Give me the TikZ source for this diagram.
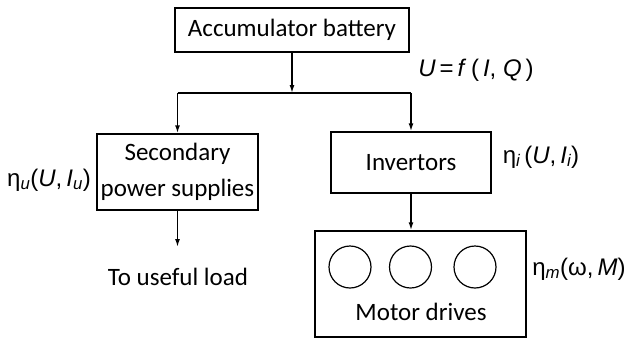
\documentclass[tikz,border=0pt]{standalone}
\usepackage{fontspec}
\setmainfont{Carlito}
\newfontfamily\labfont{Liberation Sans}
\usetikzlibrary{arrows.meta}
\begin{document}
\begin{tikzpicture}[x=1pt,y=-1pt,
  box/.style={draw,line width=1.5pt,inner sep=0pt,align=center,font=\fontsize{25}{36}\selectfont},
  txt/.style={font=\fontsize{25}{30}\selectfont},
  lab/.style={font=\labfont\fontsize{24}{28}\selectfont},
  arr/.style={line width=1.5pt,-{Latex[length=8pt,width=5pt]}},
  ln/.style={line width=1.5pt},
  wheel/.style={draw,line width=1.2pt,circle,minimum size=42pt,inner sep=0pt}]
\useasboundingbox (0,0) rectangle (627,341);
\node[box,minimum width=234pt,minimum height=44pt] (bat) at (292,30) {Accumulator battery};
\node[box,minimum width=161pt,minimum height=76pt] (sec) at (177.5,172) {Secondary\\power supplies};
\node[box,minimum width=160pt,minimum height=61pt] (inv) at (411,162.5) {Invertors};
\node[box,minimum width=211pt,minimum height=106pt] (mot) at (420.5,284) {};
\node[wheel] (w1) at (350,267) {};
\node[wheel] (w2) at (410.5,267) {};
\node[wheel] (w3) at (475,267) {};
\node[txt] (motl) at (421,312) {Motor drives};
\node[txt] (load) at (178,277) {To useful load};
\coordinate (j) at (292,93);
\coordinate (jl) at (177.5,93);
\coordinate (jr) at (411,93);
\coordinate (le) at (177.5,247);
\draw[arr] (bat.south) -- (j);
\draw[ln] (jl) -- (jr);
\draw[arr] (jl) -- (sec.north);
\draw[arr] (jr) -- (inv.north);
\draw[arr] (inv.south) -- (inv.south |- mot.north);
\draw[arr] (sec.south) -- (le);
\node[lab] (uf) at (476,70) {\itshape U\upshape\,=\,\itshape f\upshape\ (\,\itshape I\upshape, \itshape Q\upshape\,)};
\node[lab] (etau) at (49,180) {η\textsubscript{\itshape u}(\itshape U\upshape,\,\itshape I\textsubscript{u}\upshape)};
\node[lab] (etai) at (541,157) {η\textsubscript{\itshape i}\,(\itshape U\upshape,\,\itshape I\textsubscript{i}\upshape)};
\node[lab] (etam) at (579,269) {η\textsubscript{\itshape m}(ω,\,\itshape M\upshape)};
\end{tikzpicture}
\end{document}
